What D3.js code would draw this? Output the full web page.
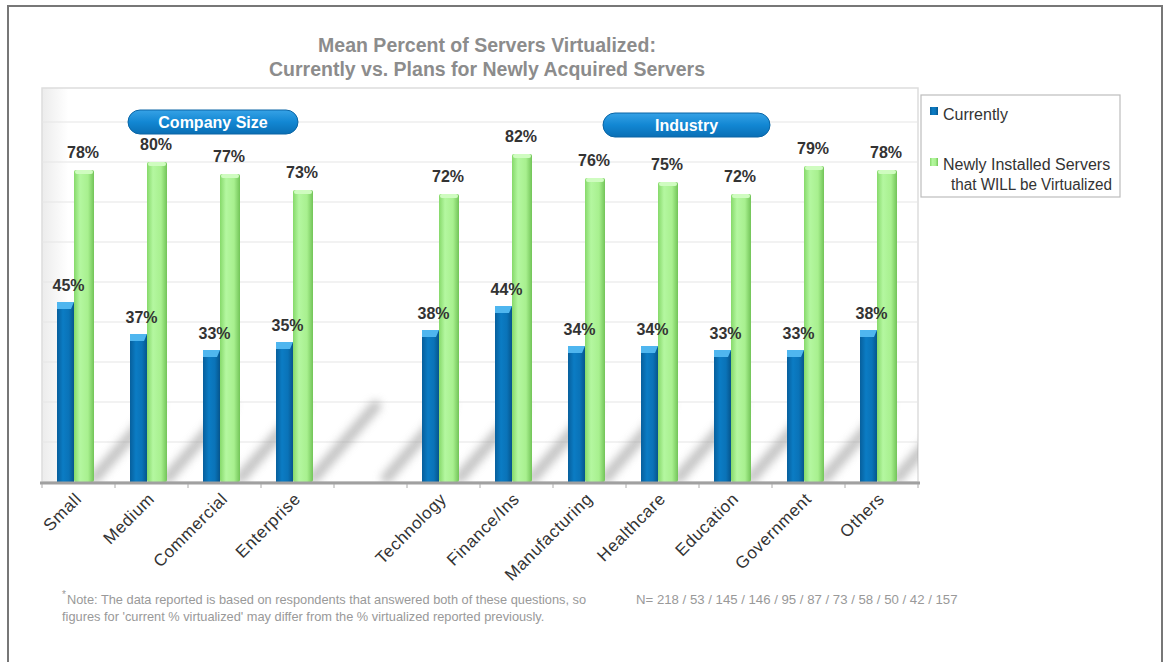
<!DOCTYPE html>
<html><head><meta charset="utf-8">
<script src="https://cdn.jsdelivr.net/npm/d3@7"></script>
<style>body{margin:0;background:#fff;}svg{display:block;font-family:Arial,"Liberation Sans",sans-serif;}</style>
</head><body>
<svg id="c" width="1166" height="662"></svg>
<script>
const categories = ["Small","Medium","Commercial","Enterprise","","Technology","Finance/Ins","Manufacturing","Healthcare","Education","Government","Others"];
const currently = [45,37,33,35,null,38,44,34,34,33,33,38];
const newly = [78,80,77,73,null,72,82,76,75,72,79,78];
const groups = [{name:"Company Size", from:0, to:3}, {name:"Industry", from:5, to:11}];
const seriesNames = ["Currently","Newly Installed Servers|that WILL be Virtualized"];
const yTicks = [10,20,30,40,50,60,70,80,90];
const title = ["Mean Percent of Servers Virtualized:","Currently vs. Plans for Newly Acquired Servers"];
const note = ["Note: The data reported is based on respondents that answered both of these questions, so","figures for 'current % virtualized' may differ from the % virtualized reported previously."];
const nText = "N= 218 / 53 / 145 / 146 /  95 / 87 / 73 / 58 / 50 / 42 / 157";

const svg = d3.select("#c");
const defs = svg.append("defs");
function lg(id, stops, x2=1, y2=0){
  const g = defs.append("linearGradient").attr("id",id).attr("x1",0).attr("y1",0).attr("x2",x2).attr("y2",y2);
  stops.forEach(s=>g.append("stop").attr("offset",s[0]).attr("stop-color",s[1]));
}
lg("gBlue",[[0,"#075f9c"],[0.35,"#0b7cc4"],[0.7,"#0a73b8"],[1,"#06558c"]]);
lg("gGreen",[[0,"#86d96a"],[0.3,"#b4f7a0"],[0.7,"#a8f08f"],[1,"#72c458"]]);
lg("gPill",[[0,"#36a2e6"],[0.5,"#1287d3"],[1,"#0a6fb5"]],0,1);
lg("gBg",[[0,"#ececec"],[0.03,"#ffffff"],[1,"#ffffff"]]);
defs.append("filter").attr("id","blur").attr("x","-50%").attr("y","-50%").attr("width","200%").attr("height","200%")
  .append("feGaussianBlur").attr("stdDeviation",4);

// outer frame
svg.append("path").attr("d","M8,662 V6 H1162 V662").attr("fill","none").attr("stroke","#777").attr("stroke-width",2);

const x = d3.scaleBand().domain(d3.range(categories.length)).range([42,918]).paddingInner(0).paddingOuter(0);
const y = d3.scaleLinear().domain([0,100]).range([482,82]);

defs.append("clipPath").attr("id","plotClip").append("rect")
  .attr("x",x.range()[0]).attr("y",y(98.5)).attr("width",x.range()[1]-x.range()[0]).attr("height",y(0)-y(98.5));

// plot background
svg.append("rect").attr("x",x.range()[0]).attr("y",y(98.5)).attr("width",x.range()[1]-x.range()[0]).attr("height",y(0)-y(98.5))
  .attr("fill","url(#gBg)").attr("stroke","#ddd").attr("stroke-width",1.5);

// gridlines
svg.append("g").selectAll("line").data(yTicks).join("line")
  .attr("x1",x.range()[0]).attr("x2",x.range()[1]).attr("y1",d=>y(d)).attr("y2",d=>y(d))
  .attr("stroke","#e6e6e6").attr("stroke-width",1.2);

// decorative shadows
const sh = svg.append("g").attr("clip-path","url(#plotClip)").append("g").attr("filter","url(#blur)").attr("opacity",0.6);
categories.forEach((c,i)=>{
  const x0 = x(i)+x.bandwidth()*0.72;
  sh.append("line").attr("x1",x0).attr("y1",y(1)).attr("x2",x0+x.bandwidth()*0.85).attr("y2",y(19))
    .attr("stroke","#9a9a9a").attr("stroke-width",11).attr("stroke-linecap","round");
});

const bw = x.bandwidth();
const blueW = 17, greenW = 20, off = 15;
const bars = svg.append("g");
categories.forEach((c,i)=>{
  if(currently[i]==null) return;
  const bx = x(i)+off, gx = bx+blueW;
  bars.append("rect").attr("x",bx).attr("y",y(currently[i])).attr("width",blueW).attr("height",y(0)-y(currently[i])).attr("fill","url(#gBlue)");
  bars.append("path").attr("d",`M${bx},${y(currently[i])} h${blueW} l-3,7 h-${blueW-3}z`).attr("fill","#4fb6ef");
  bars.append("rect").attr("x",gx).attr("y",y(newly[i])).attr("width",greenW).attr("height",y(0)-y(newly[i])).attr("fill","url(#gGreen)").attr("rx",2);
  bars.append("rect").attr("x",gx+1).attr("y",y(newly[i])).attr("width",greenW-2).attr("height",4).attr("fill","#cffcc0").attr("rx",2);
  bars.append("text").attr("x",bx+blueW/2+3).attr("y",y(currently[i])-11).attr("text-anchor","middle")
    .attr("font-size",16).attr("font-weight","bold").attr("fill","#333").text(currently[i]+"%");
  bars.append("text").attr("x",gx+greenW/2-1).attr("y",y(newly[i])-12).attr("text-anchor","middle")
    .attr("font-size",16).attr("font-weight","bold").attr("fill","#333").text(newly[i]+"%");
});

// baseline axis
svg.append("line").attr("x1",x.range()[0]-2).attr("x2",x.range()[1]+2).attr("y1",y(0)+1).attr("y2",y(0)+1).attr("stroke","#a0a0a0").attr("stroke-width",3);
svg.append("g").selectAll("line").data(d3.range(categories.length+1)).join("line")
  .attr("x1",d=>x.range()[0]+d*bw).attr("x2",d=>x.range()[0]+d*bw).attr("y1",y(0)+2).attr("y2",y(0)+6).attr("stroke","#aaa");

// x labels
svg.append("g").selectAll("text").data(categories).join("text")
  .attr("transform",(d,i)=>`translate(${x(i)+bw/2+4},${y(0)+18}) rotate(-45)`)
  .attr("text-anchor","end").attr("font-size",17).attr("letter-spacing",0.6).attr("fill","#333").text(d=>d);

// group pills
const pill = svg.append("g");
groups.forEach((g,k)=>{
  const px = [128,603][k], py = [110,113][k], pw = [170,167][k];
  pill.append("rect").attr("x",px).attr("y",py).attr("width",pw).attr("height",24).attr("rx",12).attr("fill","url(#gPill)").attr("stroke","#0a65a5").attr("stroke-width",1);
  pill.append("text").attr("x",px+pw/2).attr("y",py+18).attr("text-anchor","middle").attr("font-size",16).attr("font-weight","bold").attr("fill","#fff").text(g.name);
});

// title
svg.append("g").selectAll("text").data(title).join("text")
  .attr("x",487).attr("y",(d,i)=>52+i*24).attr("text-anchor","middle").attr("font-size",19.5).attr("font-weight","bold").attr("fill","#8c8c8c").text(d=>d);

// legend
const leg = svg.append("g");
leg.append("rect").attr("x",921).attr("y",95).attr("width",199).attr("height",102).attr("fill","#fff").attr("stroke","#bdbdbd").attr("stroke-width",1.2);
leg.append("rect").attr("x",930).attr("y",107).attr("width",8).attr("height",8).attr("fill","url(#gBlue)");
leg.append("rect").attr("x",930).attr("y",158).attr("width",8).attr("height",8).attr("fill","url(#gGreen)");
leg.append("text").attr("x",943).attr("y",120).attr("font-size",16).attr("fill","#333").text(seriesNames[0]);
const l2 = seriesNames[1].split("|");
leg.append("text").attr("x",943).attr("y",170).attr("font-size",16).attr("fill","#333").text(l2[0]);
leg.append("text").attr("x",951).attr("y",190).attr("font-size",16).attr("textLength",161).attr("lengthAdjust","spacingAndGlyphs").attr("fill","#333").text(l2[1]);

// footnote
const fn = svg.append("g").attr("fill","#999").attr("font-size",12.8);
fn.append("text").attr("x",62).attr("y",598).attr("font-size",10).text("*");
fn.append("text").attr("x",67).attr("y",604).text(note[0]);
fn.append("text").attr("x",62).attr("y",621).text(note[1]);
svg.append("text").attr("x",636).attr("y",604).attr("font-size",13.2).attr("fill","#999").text(nText);
</script>
</body></html>
